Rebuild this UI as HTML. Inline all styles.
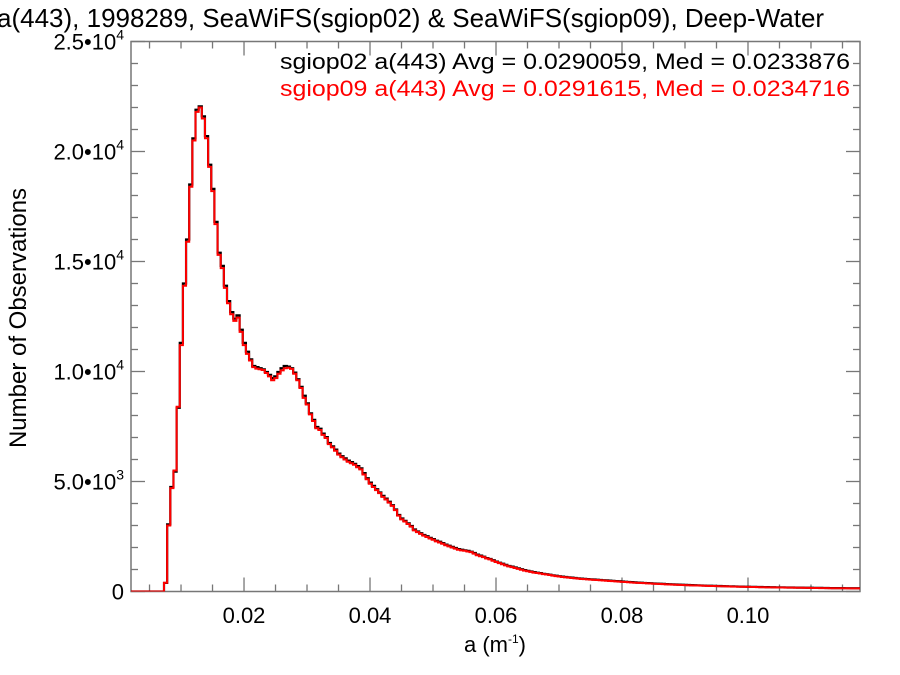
<!DOCTYPE html>
<html><head><meta charset="utf-8">
<style>
html,body{margin:0;padding:0;background:#fff;width:900px;height:675px;overflow:hidden}
svg{display:block;font-family:"Liberation Sans",Arial,sans-serif}
</style></head>
<body>
<svg id="chart" width="900" height="675" viewBox="0 0 900 675" xmlns="http://www.w3.org/2000/svg">
<defs><clipPath id="plotclip"><rect x="131" y="41.5" width="729" height="550"/></clipPath></defs>
<text x="-3" y="27" font-size="26" fill="#000">a(443), 1998289, SeaWiFS(sgiop02) &amp; SeaWiFS(sgiop09), Deep-Water</text>
<g id="axes"></g>
<g id="series" clip-path="url(#plotclip)"></g>
<text x="850" y="69" font-size="22" text-anchor="end" textLength="570" lengthAdjust="spacingAndGlyphs" fill="#000">sgiop02 a(443) Avg = 0.0290059, Med = 0.0233876</text>
<text x="850" y="96" font-size="22" text-anchor="end" textLength="570" lengthAdjust="spacingAndGlyphs" fill="#ff0000">sgiop09 a(443) Avg = 0.0291615, Med = 0.0234716</text>
<text x="495" y="652" font-size="22" text-anchor="middle">a (m<tspan font-size="12" dy="-9">-1</tspan><tspan dy="9">)</tspan></text>
<text x="0" y="0" font-size="24" text-anchor="middle" transform="translate(26,318) rotate(-90)">Number of Observations</text>
</svg>
<script>
const binStart = 0.0073;
const binWidth = 0.0005;
const redCounts = [400,3000,4700,5500,8400,11200,13900,15900,18400,20500,21800,22000,21500,20600,19300,18200,16700,15300,14700,13800,13100,12600,12300,12450,11800,11200,10800,10500,10200,10130,10100,10070,9930,9780,9600,9700,9900,10050,10150,10170,10120,9900,9600,9250,8800,8500,8050,7750,7420,7340,7120,6980,6700,6550,6400,6220,6100,6000,5900,5830,5760,5650,5550,5320,5100,4900,4750,4610,4470,4300,4180,4040,3890,3700,3450,3280,3180,3070,2950,2780,2700,2620,2540,2480,2410,2350,2280,2230,2170,2100,2050,2000,1950,1900,1870,1850,1820,1790,1720,1650,1600,1560,1500,1460,1400,1340,1290,1240,1190,1140,1110,1070,1030,990,950,920,890,860,840,820,790,770,750,720,700,680,660,645,630,615,600,585,570,560,550,540,530,520,510,500,490,480,470,460,450,440,430,420,410,400,392,385,378,370,362,355,348,340,333,326,320,314,308,302,296,290,285,280,275,270,265,260,256,252,248,244,240,236,232,228,224,220,217,214,211,208,205,202,199,196,193,190,188,186,184,182,180,178,176,174,172,170,168,166,164,162,160,158,156,154,152,150,149,148,147,146,145,144,143,142,141,140];
const blackCounts = [390,3050,4750,5450,8350,11300,14000,16000,18500,20600,21900,22050,21600,20700,19400,18300,16800,15400,14800,13900,13200,12700,12400,12550,11900,11300,10900,10550,10250,10200,10150,10100,9980,9850,9700,9780,9980,10150,10250,10220,10150,9950,9650,9300,8900,8550,8100,7800,7480,7400,7180,7020,6750,6600,6450,6270,6150,6050,5950,5880,5800,5700,5600,5380,5150,4950,4800,4650,4500,4350,4220,4080,3920,3730,3480,3320,3210,3100,2980,2820,2730,2650,2570,2510,2440,2380,2310,2260,2200,2130,2080,2030,1980,1930,1900,1870,1850,1810,1750,1680,1630,1580,1520,1480,1420,1360,1310,1260,1210,1160,1130,1090,1050,1010,970,940,910,880,855,835,805,785,765,735,715,695,675,660,645,630,615,600,585,575,565,555,545,535,525,515,505,495,485,475,465,455,445,435,425,415,405,397,390,383,375,367,360,353,345,338,331,325,319,313,307,301,295,290,285,280,275,270,265,261,257,253,249,245,241,237,233,229,225,222,219,216,213,210,207,204,201,198,195,193,191,189,187,185,183,181,179,177,175,173,171,169,167,165,163,161,159,157,155,154,153,152,151,150,149,148,147,146,145,144];
const xTickValues = [0.02,0.04,0.06,0.08,0.10];
const xTickLabels = ["0.02","0.04","0.06","0.08","0.10"];
const yTickValues = [0,5000,10000,15000,20000,25000];
const yTickMant = ["0","5.0","1.0","1.5","2.0","2.5"];
const yTickExp = ["","3","4","4","4","4"];

const X0=131,X1=860,Y0=591.5,Y1=41.5;
const xMin=0.00206,xMax=0.11778,yMin=0,yMax=25000;
function xs(v){return X0+(v-xMin)/(xMax-xMin)*(X1-X0);}
function ys(v){return Y0-(v-yMin)/(yMax-yMin)*(Y0-Y1);}
const NS="http://www.w3.org/2000/svg";
function mk(tag,attrs,parent){const e=document.createElementNS(NS,tag);for(const k in attrs)e.setAttribute(k,attrs[k]);parent.appendChild(e);return e;}
const axes=document.getElementById('axes');
const box=mk('rect',{x:X0,y:Y1,width:X1-X0,height:Y0-Y1,fill:'none',stroke:'#777','stroke-width':1.5},axes);


for(let k=1;k<=23;k++){const v=k*0.005;if(v<xMin||v>xMax)continue;const x=xs(v);const major=(k%4===0);const L=major?14:7;
  const t1=mk('line',{x1:x,x2:x,y1:Y0,y2:Y0-L,stroke:'#777','stroke-width':1.3},axes);
  
  
  const t2=mk('line',{x1:x,x2:x,y1:Y1,y2:Y1+L,stroke:'#777','stroke-width':1.3},axes);
  
  }
for(let k=0;k<=25;k++){const v=k*1000;const y=ys(v);const major=(k%5===0);const L=major?14:7;
  const t1=mk('line',{x1:X0,x2:X0+L,y1:y,y2:y,stroke:'#777','stroke-width':1.3},axes);
  
  
  const t2=mk('line',{x1:X1,x2:X1-L,y1:y,y2:y,stroke:'#777','stroke-width':1.3},axes);
  
  }
xTickValues.forEach((v,i)=>{const t=mk('text',{x:xs(v),y:623,'font-size':22,'text-anchor':'middle'},axes);t.textContent=xTickLabels[i];
  
  });
yTickValues.forEach((v,i)=>{const y=ys(v)+8;const t=mk('text',{x:124,y:y,'font-size':22,'text-anchor':'end'},axes);
  
  
  if(yTickExp[i]===''){t.textContent=yTickMant[i];}else{
    const a=document.createElementNS(NS,'tspan');a.textContent=yTickMant[i]+'\u2022'+'10';t.appendChild(a);
    const b=document.createElementNS(NS,'tspan');b.setAttribute('font-size','14');b.setAttribute('dy','-10');b.textContent=yTickExp[i];t.appendChild(b);}});
function stepPath(counts){let d='M'+X0+','+ys(0)+' L'+xs(binStart)+','+ys(0);
  counts.forEach((c,i)=>{const a=binStart+i*binWidth,b=a+binWidth;d+=' L'+xs(a).toFixed(2)+','+ys(c).toFixed(2)+' L'+xs(b).toFixed(2)+','+ys(c).toFixed(2);});
  return d;}
const ser=document.getElementById('series');
const pb=mk('path',{d:stepPath(blackCounts),fill:'none',stroke:'#000','stroke-width':2.2},ser);


const pr=mk('path',{d:stepPath(redCounts),fill:'none',stroke:'#ff0000','stroke-width':2},ser);


</script>
</body></html>
